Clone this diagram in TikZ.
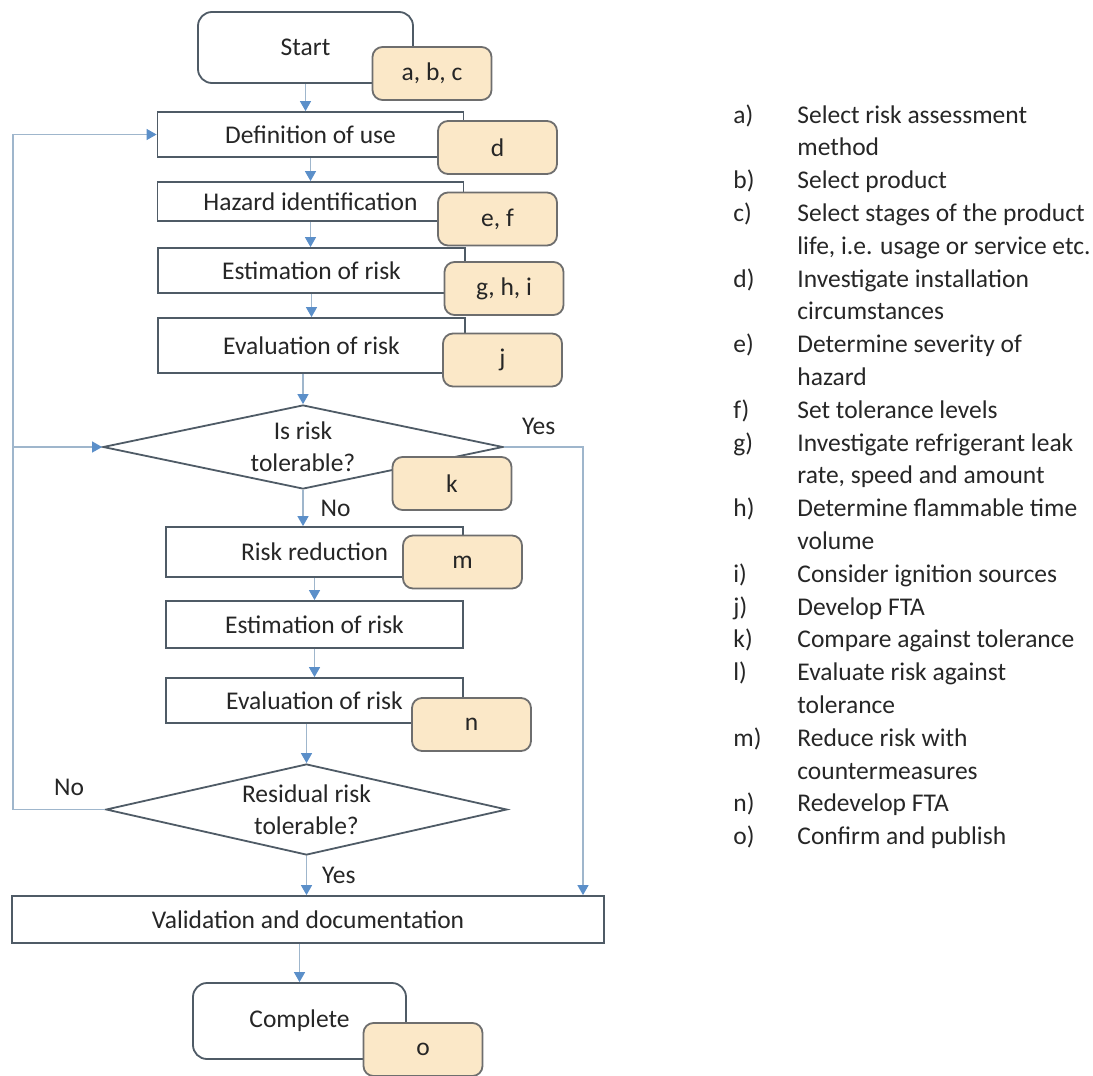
\documentclass[tikz,border=0pt]{standalone}
\usepackage{fontspec}
\setmainfont{Carlito}
\usetikzlibrary{arrows.meta,shapes.geometric}

\definecolor{boxline}{HTML}{4F5B66}
\definecolor{noteline}{HTML}{6E6E6E}
\definecolor{notefill}{HTML}{FBE8C8}
\definecolor{flowline}{HTML}{9FB6CC}
\definecolor{flowtip}{HTML}{5B8FC9}
\definecolor{txt}{HTML}{262626}

\tikzset{
  procbox/.style={rectangle, draw=boxline, line width=0.9pt, fill=white, inner sep=0pt, minimum width=153pt},
  termbox/.style={procbox, rounded corners=7pt},
  notebox/.style={rectangle, draw=noteline, line width=0.9pt, fill=notefill, rounded corners=5pt,
    inner sep=0pt, minimum width=59.5pt, minimum height=26.5pt},
  decbox/.style={diamond, draw=boxline, line width=0.9pt, fill=white, aspect=4.7, inner sep=0pt,
    align=center, minimum width=200pt},
  flow/.style={draw=flowline, line width=0.7pt, -{Triangle[length=5pt,width=5.5pt,color=flowtip]}},
  branch/.style={inner sep=0pt},
  legtext/.style={anchor=base west, inner sep=0pt},
  legtag/.style={anchor=base west, inner sep=0pt}
}

\begin{document}
\begin{tikzpicture}[x=0.5pt, y=-0.5pt, font=\fontsize{12.75pt}{15.8pt}\selectfont, text=txt]
    \useasboundingbox (0,0) rectangle (1093,1076);

    % main column
    \node[termbox, minimum width=107.5pt, minimum height=35.5pt] (start) at (305.5,47.5) {Start};
    \node[notebox] (nabc) at (432,73.5) {a, b, c};
    \node[procbox, minimum height=22.5pt] (def) at (310.5,134.5) {Definition of use};
    \node[notebox] (nd) at (497.5,147.5) {d};
    \node[procbox, minimum height=19.5pt] (haz) at (310.5,201.5) {Hazard identification};
    \node[notebox] (nef) at (497.5,219) {e, f};
    \node[procbox, minimum width=153.5pt, minimum height=22.5pt] (est) at (311.5,270.5) {Estimation of risk};
    \node[notebox] (nghi) at (504,288.5) {g, h, i};
    \node[procbox, minimum width=153.5pt, minimum height=27.5pt] (eval) at (311.5,345.5) {Evaluation of risk};
    \node[notebox] (nj) at (502.5,360) {j};
    \node[decbox, minimum height=42pt] (tol) at (303,447) {Is risk\\tolerable?};
    \node[notebox] (nk) at (452,483.5) {k};

    % reduction loop
    \node[procbox, minimum width=148.5pt, minimum height=25pt] (red) at (314.5,552) {Risk reduction};
    \node[notebox] (nm) at (462.5,562) {m};
    \node[procbox, minimum width=148.5pt, minimum height=23.5pt] (reest) at (314.5,624.5) {Estimation of risk};
    \node[procbox, minimum width=148.5pt, minimum height=22.5pt] (reeval) at (314.5,700.5) {Evaluation of risk};
    \node[notebox] (nn) at (471.5,724.5) {n};
    \node[decbox, minimum width=200.5pt, minimum height=45.5pt] (resid) at (306.5,809.5) {Residual risk\\tolerable?};

    % end
    \node[procbox, minimum width=296pt, minimum height=23.5pt] (valid) at (308,919.5) {Validation and documentation};
    \node[termbox, minimum width=106.5pt, minimum height=38pt] (done) at (299.5,1021) {Complete};
    \node[notebox] (no) at (423,1049.5) {o};

    % connectors
    \coordinate (loopx) at (13,0);
    \coordinate (yesx) at (583,0);
    \draw[flow] (start.south) -- (start.south |- def.north);
    \draw[flow] (def.south) -- (def.south |- haz.north);
    \draw[flow] (haz.south) -- (haz.south |- est.north);
    \draw[flow] (est.south) -- (est.south |- eval.north);
    \draw[flow] (tol.north |- eval.south) -- (tol.north);
    \draw[flow] (tol.south) -- node[branch, right=8.5pt] (lbno1) {No} (tol.south |- red.north);
    \draw[flow] (tol.east) -- node[branch, above=6pt, pos=.44] (lbyes1) {Yes} (tol.east -| yesx) -- (valid.north -| yesx);
    \draw[flow] (red.south) -- (red.south |- reest.north);
    \draw[flow] (reest.south) -- (reest.south |- reeval.north);
    \draw[flow] (resid.north |- reeval.south) -- (resid.north);
    \draw[flow] (resid.west) -- node[branch, above=6.5pt, pos=.39] (lbno2) {No} (resid.west -| loopx)
        -- (def.west -| loopx) -- (def.west);
    \draw[flow] (tol.west -| loopx) -- (tol.west);
    \draw[flow] (resid.south) -- node[branch, right=7.5pt] (lbyes2) {Yes} (resid.south |- valid.north);
    \draw[flow] (done.north |- valid.south) -- (done.north);

    % legend
    \foreach \row/\txt in {0/Select risk assessment, 1/method, 2/Select product,
        3/Select stages of the product, 4/{life, i.e. usage or service etc.},
        5/Investigate installation, 6/circumstances, 7/Determine severity of, 8/hazard,
        9/Set tolerance levels, 10/Investigate refrigerant leak, 11/{rate, speed and amount},
        12/Determine flammable time, 13/volume, 14/Consider ignition sources, 15/Develop FTA,
        16/Compare against tolerance, 17/Evaluate risk against, 18/tolerance,
        19/Reduce risk with, 20/countermeasures, 21/Redevelop FTA, 22/Confirm and publish}
        \node[legtext] (leg\row) at (797,{123+32.8*\row}) {\txt};
    \foreach \row/\tag in {0/a, 2/b, 3/c, 5/d, 7/e, 9/f, 10/g, 12/h, 14/i, 15/j, 16/k,
        17/l, 19/m, 21/n, 22/o}
        \node[legtag] (tag\tag) at (733,{123+32.8*\row}) {\tag)};
\end{tikzpicture}
\end{document}
